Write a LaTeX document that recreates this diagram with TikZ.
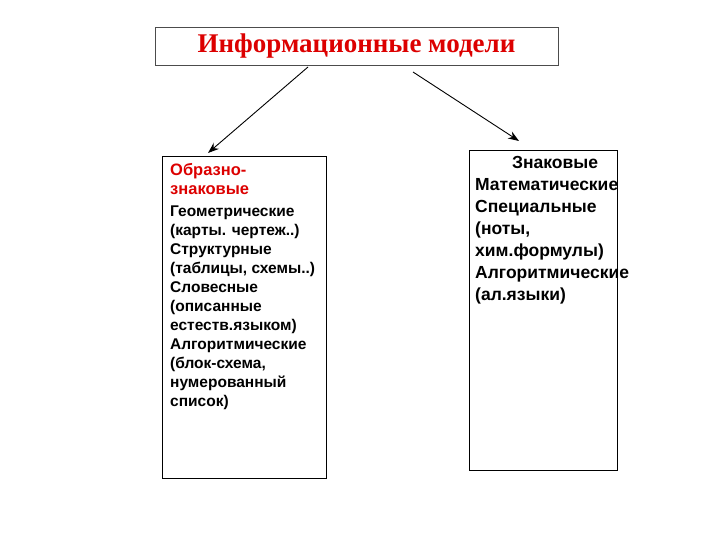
\documentclass[tikz,border=0pt]{standalone}
\usepackage{fontspec}
\usetikzlibrary{arrows.meta}
\setmainfont{Liberation Sans}
\newfontfamily\serifb{Liberation Serif}
\definecolor{tred}{RGB}{220,0,0}
\begin{document}
\begin{tikzpicture}[x=1pt,y=-1pt,
  boxs/.style={draw,line width=1pt,inner sep=0pt},
  arr/.style={-{Stealth[length=11pt,width=8pt]},line width=0.9pt}]
\useasboundingbox (0,0) rectangle (720,540);
\node[boxs,draw=black!70,line width=0.6pt,minimum width=403pt,minimum height=38pt] (t) at (356.5,46)
  {\serifb\bfseries\fontsize{27}{30}\selectfont\color{tred}Информационные модели};
\draw[line width=1pt] (162,157) rectangle (326,478);
\draw[line width=1pt] (469,151) rectangle (617,470);
\node[anchor=north west,align=left,inner sep=0pt,font=\bfseries\fontsize{15.5}{19}\selectfont] (lt) at (170,163)
 {\textcolor{tred}{\fontsize{16.5}{19}\selectfont Образно-}\\\textcolor{tred}{\fontsize{16.5}{19}\selectfont знаковые}\\[3pt]
 Геометрические\\(карты. чертеж..)\\Структурные\\(таблицы, схемы..)\\Словесные\\(описанные\\естеств.языком)\\Алгоритмические\\(блок-схема,\\нумерованный\\список)};
\node[anchor=north west,align=left,inner sep=0pt,font=\bfseries\fontsize{17.5}{22}\selectfont] (rt) at (475,156)
 {\hspace*{37pt}Знаковые\\Математические\\Специальные\\(ноты,\\хим.формулы)\\Алгоритмические\\(ал.языки)};
\coordinate (a1) at (308,67); \coordinate (a1e) at (208,153);
\coordinate (a2) at (413,72); \coordinate (a2e) at (519,141);
\draw[arr] (a1) -- (a1e);
\draw[arr] (a2) -- (a2e);
\end{tikzpicture}
\end{document}
